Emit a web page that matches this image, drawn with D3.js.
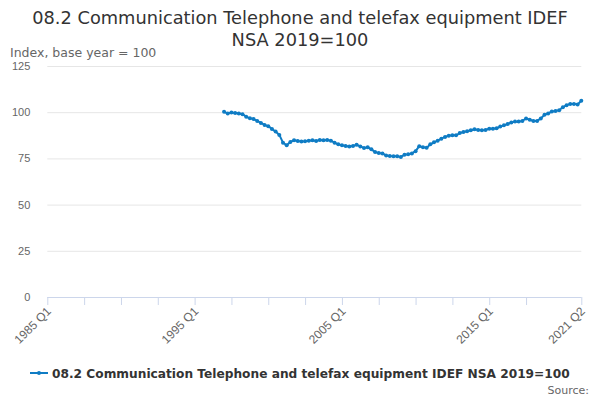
<!DOCTYPE html>
<html>
<head>
<meta charset="utf-8">
<script src="https://cdn.jsdelivr.net/npm/d3@7"></script>
<style>
  body { margin: 0; background: #fff; }
  svg { font-family: "DejaVu Sans", sans-serif; }
</style>
</head>
<body>
<svg id="chart" width="600" height="400"></svg>
<script>
// quarters on the category axis: 1985 Q1 .. 2021 Q2
const quarters = [];
for (let yr = 1985; yr <= 2021; yr++) {
    for (let q = 1; q <= 4; q++) {
        if (yr === 2021 && q > 2) break;
        quarters.push(yr + " Q" + q);
    }
}

// series starts 1997 Q1
const seriesStart = "1997 Q1";
const values = [
    100.2, 99.3, 99.8, 99.6, 99.3, 98.9, 97.6, 96.7, 96.3, 95.3,
    94.2, 93.1, 92.4, 90.9, 89.5, 87.7, 83.5, 82.1, 83.9, 84.8,
    84.4, 84.1, 84.3, 84.6, 84.8, 84.4, 85.0, 84.8, 85.0, 84.6,
    83.5, 82.6, 82.1, 81.7, 81.5, 81.7, 82.4, 81.5, 80.6, 81.0,
    79.9, 78.4, 77.9, 77.7, 76.6, 76.3, 76.1, 76.1, 75.8, 77.0,
    77.2, 77.7, 78.9, 81.6, 81.1, 80.7, 82.6, 83.7, 84.6, 85.7,
    86.6, 87.3, 87.5, 87.5, 88.7, 89.3, 89.7, 90.2, 90.8, 90.4,
    90.2, 90.4, 91.1, 91.1, 91.3, 92.2, 92.9, 93.6, 94.4, 94.9,
    94.9, 95.3, 96.6, 95.9, 95.3, 95.3, 96.6, 98.6, 99.3, 100.4,
    100.7, 101.1, 102.7, 103.8, 104.5, 104.5, 104.2, 106.2
];

const yTicks = [0, 25, 50, 75, 100, 125];
const labelledQuarters = ["1985 Q1", "1995 Q1", "2005 Q1", "2015 Q1", "2021 Q2"];

const titleLines = ["08.2 Communication Telephone and telefax equipment IDEF", "NSA 2019=100"];
const seriesName = "08.2 Communication Telephone and telefax equipment IDEF NSA 2019=100";
const lineColor = "#0f7cc4";

const svg = d3.select("#chart");
const plotLeft = 47.3, plotRight = 581.3, plotTop = 66, plotBottom = 297;

const x = d3.scalePoint().domain(quarters).range([plotLeft, plotRight]);
const y = d3.scaleLinear().domain([0, 125]).range([plotBottom, plotTop]);

const startIdx = quarters.indexOf(seriesStart);
const data = values.map((v, i) => ({ q: quarters[startIdx + i], v: v }));

// title
svg.append("g").selectAll("text").data(titleLines).enter().append("text")
    .attr("x", 300)
    .attr("y", (d, i) => 24 + i * 22)
    .attr("text-anchor", "middle")
    .attr("fill", "#333")
    .style("font-size", "17.8px")
    .text(d => d);

// y axis title
svg.append("text")
    .attr("x", 10).attr("y", 57)
    .attr("fill", "#666")
    .style("font-size", "12.5px")
    .text("Index, base year = 100");

// gridlines + y labels
const yAxis = svg.append("g")
    .attr("transform", `translate(${plotLeft},0)`)
    .call(d3.axisLeft(y).tickValues(yTicks).tickSize(-(plotRight - plotLeft)).tickPadding(17));
yAxis.select(".domain").remove();
yAxis.selectAll(".tick line").attr("stroke", "#e6e6e6");
yAxis.selectAll(".tick line").filter(d => d === 0).remove();
yAxis.selectAll(".tick text").attr("fill", "#666").style("font-size", "11px");

// x axis
const tickQuarters = quarters.filter((d, i) => i % 10 === 0 && i <= 130).concat([quarters[quarters.length - 1]]);
const xAxis = svg.append("g")
    .attr("transform", `translate(0,${plotBottom})`)
    .call(d3.axisBottom(x).tickValues(tickQuarters).tickSize(8).tickSizeOuter(0)
        .tickFormat(d => labelledQuarters.includes(d) ? d : ""));
xAxis.select(".domain").attr("stroke", "#ccd6eb").attr("d", `M${plotLeft},0.5H${plotRight}`);
xAxis.selectAll(".tick line").attr("stroke", "#ccd6eb");
xAxis.selectAll(".tick text")
    .attr("fill", "#666")
    .style("font-size", "12px")
    .attr("text-anchor", "end")
    .attr("dy", null)
    .attr("transform", "translate(4,15) rotate(-45)")
    .attr("y", 0);

// series line
const line = d3.line().x(d => x(d.q)).y(d => y(d.v));
svg.append("path")
    .datum(data)
    .attr("fill", "none")
    .attr("stroke", lineColor)
    .attr("stroke-width", 2)
    .attr("d", line);

svg.append("g").selectAll("circle").data(data).enter().append("circle")
    .attr("cx", d => x(d.q))
    .attr("cy", d => y(d.v))
    .attr("r", 2)
    .attr("fill", lineColor);

// legend
const legend = svg.append("g").attr("transform", "translate(30,373)");
legend.append("line").attr("x1", 0).attr("x2", 18).attr("y1", 0).attr("y2", 0)
    .attr("stroke", lineColor).attr("stroke-width", 2);
legend.append("circle").attr("cx", 9).attr("cy", 0).attr("r", 2).attr("fill", lineColor);
legend.append("text")
    .attr("x", 22).attr("y", 4.5)
    .attr("fill", "#333")
    .style("font-size", "12.2px")
    .style("font-weight", "bold")
    .text(seriesName);

svg.append("text")
    .attr("x", 589).attr("y", 394)
    .attr("text-anchor", "end")
    .attr("fill", "#666")
    .style("font-size", "11px")
    .text("Source:");
</script>
</body>
</html>
